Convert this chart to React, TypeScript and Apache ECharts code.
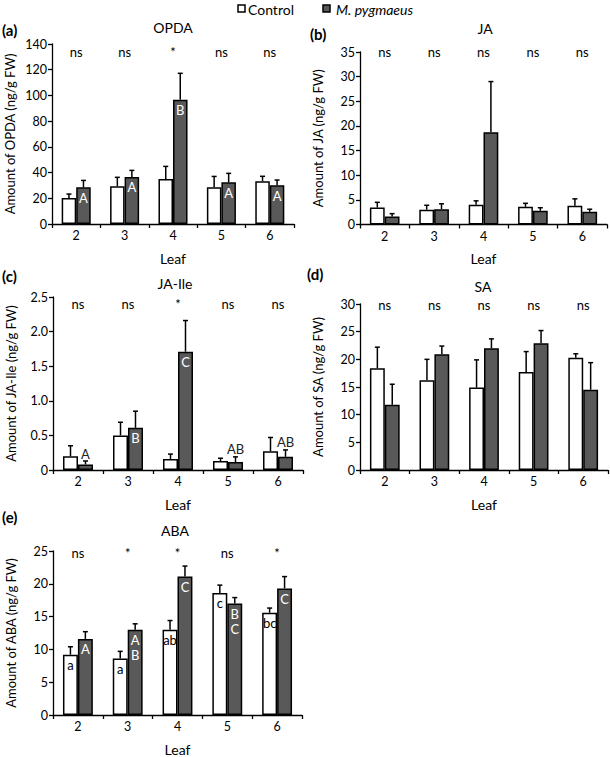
import React, { useEffect, useRef } from "react";
import * as echarts from "echarts";

const leaves = ["2", "3", "4", "5", "6"];

// (a) OPDA
const opdaControl = [20.2, 29.3, 35.0, 28.5, 33.2];
const opdaControlSE = [3.1, 7.0, 9.8, 8.5, 3.9];
const opdaMp = [28.5, 36.6, 96.7, 32.4, 30.1];
const opdaMpSE = [5.4, 5.1, 20.5, 7.0, 4.1];
const opdaMpLetters = ["A", "A", "B", "A", "A"];
const opdaSig = ["ns", "ns", "*", "ns", "ns"];

// (b) JA
const jaControl = [3.45, 3.0, 4.0, 3.6, 3.8];
const jaControlSE = [1.05, 0.9, 0.8, 0.7, 1.4];
const jaMp = [1.6, 3.1, 18.7, 2.8, 2.6];
const jaMpSE = [0.6, 1.1, 10.3, 0.6, 0.5];
const jaSig = ["ns", "ns", "ns", "ns", "ns"];

// (c) JA-Ile
const jaIleControl = [0.2, 0.5, 0.16, 0.13, 0.27];
const jaIleControlSE = [0.15, 0.19, 0.07, 0.04, 0.2];
const jaIleMp = [0.08, 0.61, 1.71, 0.115, 0.19];
const jaIleMpSE = [0.05, 0.24, 0.45, 0.075, 0.1];
const jaIleMpLetters = ["A", "B", "C", "AB", "AB"];
const jaIleSig = ["ns", "ns", "*", "ns", "ns"];

// (d) SA
const saControl = [18.4, 16.2, 14.9, 17.7, 20.3];
const saControlSE = [3.8, 3.8, 5.0, 3.7, 0.7];
const saMp = [11.8, 20.9, 22.0, 22.9, 14.5];
const saMpSE = [3.7, 1.5, 1.7, 2.3, 4.9];
const saSig = ["ns", "ns", "ns", "ns", "ns"];

// (e) ABA
const abaControl = [9.2, 8.6, 13.0, 18.6, 15.6];
const abaControlSE = [1.2, 1.1, 1.4, 1.2, 0.7];
const abaMp = [11.6, 13.0, 21.1, 17.0, 19.3];
const abaMpSE = [1.1, 0.9, 1.6, 0.9, 1.8];
const abaControlLetters = ["a", "a", "ab", "c", "bc"];
const abaMpLetters = ["A", "A\nB", "C", "B\nC", "C"];
const abaSig = ["ns", "*", "*", "ns", "*"];

const FONT = "Lato, 'Open Sans', sans-serif";
const MP_COLOR = "#595959";

type Panel = {
  tag: string;
  title: string;
  yName: string;
  max: number;
  interval: number;
  control: number[];
  controlSE: number[];
  mp: number[];
  mpSE: number[];
  controlLetters?: string[];
  mpLetters?: string[];
  sig: string[];
  grid: { left: number; top: number; width: number; height: number };
  sigOffset: number;
  tagPos: [number, number];
  decimals?: boolean;
};

const panels: Panel[] = [
  {
    tag: "(a)", title: "OPDA", yName: "Amount of OPDA (ng/g FW)", max: 140, interval: 20,
    control: opdaControl, controlSE: opdaControlSE, mp: opdaMp, mpSE: opdaMpSE,
    mpLetters: opdaMpLetters, sig: opdaSig,
    grid: { left: 52, top: 44, width: 242, height: 180 }, sigOffset: 8, tagPos: [2, 30],
  },
  {
    tag: "(b)", title: "JA", yName: "Amount of JA (ng/g FW)", max: 35, interval: 5,
    control: jaControl, controlSE: jaControlSE, mp: jaMp, mpSE: jaMpSE, sig: jaSig,
    grid: { left: 360, top: 52, width: 247, height: 172.5 }, sigOffset: 0, tagPos: [310, 34],
  },
  {
    tag: "(c)", title: "JA-Ile", yName: "Amount of JA-Ile (ng/g FW)", max: 2.5, interval: 0.5,
    control: jaIleControl, controlSE: jaIleControlSE, mp: jaIleMp, mpSE: jaIleMpSE,
    mpLetters: jaIleMpLetters, sig: jaIleSig, decimals: true,
    grid: { left: 53, top: 297, width: 250, height: 173 }, sigOffset: 7, tagPos: [2, 276],
  },
  {
    tag: "(d)", title: "SA", yName: "Amount of SA (ng/g FW)", max: 30, interval: 5,
    control: saControl, controlSE: saControlSE, mp: saMp, mpSE: saMpSE, sig: saSig,
    grid: { left: 360, top: 304, width: 248, height: 166 }, sigOffset: 1, tagPos: [307, 274],
  },
  {
    tag: "(e)", title: "ABA", yName: "Amount of ABA (ng/g FW)", max: 25, interval: 5,
    control: abaControl, controlSE: abaControlSE, mp: abaMp, mpSE: abaMpSE,
    controlLetters: abaControlLetters, mpLetters: abaMpLetters, sig: abaSig,
    grid: { left: 53, top: 551, width: 249, height: 167 }, sigOffset: 2, tagPos: [2, 517],
  },
];

function makeRender(p: Panel) {
  return (params: any, api: any) => {
    const i = api.value(0);
    const catW = api.size([1, 0])[0];
    const bw = catW * 0.3;
    const base = api.coord([i, 0]);
    const children: any[] = [];
    const items = [
      { v: p.control[i], se: p.controlSE[i], dx: -bw / 2, letter: p.controlLetters ? p.controlLetters[i] : "", inColor: "#000" },
      { v: p.mp[i], se: p.mpSE[i], dx: bw / 2, letter: p.mpLetters ? p.mpLetters[i] : "", inColor: "#fff" },
    ];
    for (const it of items) {
      const x = base[0] + it.dx;
      const top = api.coord([i, it.v])[1];
      const et = api.coord([i, it.v + it.se])[1];
      children.push({ type: "line", shape: { x1: x, y1: top, x2: x, y2: et }, style: { stroke: "#000", lineWidth: 1.5 } });
      children.push({ type: "line", shape: { x1: x - 2.5, y1: et, x2: x + 2.5, y2: et }, style: { stroke: "#000", lineWidth: 1.5 } });
      if (it.letter) {
        const h = base[1] - top;
        if (h > 22) {
          children.push({
            type: "text", x, y: top + 3,
            style: { text: it.letter, fill: it.inColor, font: `13px ${FONT}`, align: "center", verticalAlign: "top", lineHeight: 15 },
          });
        } else {
          children.push({
            type: "text", x, y: et - 1,
            style: { text: it.letter, fill: "#222", font: `13px ${FONT}`, align: "center", verticalAlign: "bottom" },
          });
        }
      }
    }
    const yTop = api.coord([i, p.max])[1];
    children.push({
      type: "text", x: base[0], y: yTop + p.sigOffset,
      style: { text: p.sig[i], fill: "#000", font: `13px ${FONT}`, align: "center", verticalAlign: "middle" },
    });
    return { type: "group", children };
  };
}

function buildOption() {
  const grid: any[] = [];
  const xAxis: any[] = [];
  const yAxis: any[] = [];
  const series: any[] = [];
  const graphic: any[] = [];
  panels.forEach((p, k) => {
    grid.push({ ...p.grid, containLabel: false });
    xAxis.push({
      type: "category", data: leaves, gridIndex: k,
      name: "Leaf", nameLocation: "middle", nameGap: 27,
      nameTextStyle: { fontFamily: FONT, fontSize: 14, color: "#000" },
      axisLine: { lineStyle: { color: "#000", width: 1.3 } },
      axisTick: { show: true, length: 4, lineStyle: { color: "#000", width: 1.3 } },
      axisLabel: { fontFamily: FONT, fontSize: 12.5, color: "#000", margin: 5 },
    });
    yAxis.push({
      type: "value", gridIndex: k, min: 0, max: p.max, interval: p.interval,
      name: p.yName, nameLocation: "middle", nameGap: 36,
      nameTextStyle: { fontFamily: FONT, fontSize: 13, color: "#000" },
      axisLine: { show: true, lineStyle: { color: "#000", width: 1.3 } },
      axisTick: { show: true, length: 4, lineStyle: { color: "#000", width: 1.3 } },
      splitLine: { show: false },
      axisLabel: {
        fontFamily: FONT, fontSize: 12.5, color: "#000", margin: 5,
        formatter: (v: number) => (p.decimals ? (v === 0 ? "0" : v.toFixed(1)) : String(v)),
      },
    });
    series.push({
      type: "bar", name: "Control", xAxisIndex: k, yAxisIndex: k, data: p.control,
      barWidth: "30%", barGap: "0%",
      itemStyle: { color: "#fff", borderColor: "#000", borderWidth: 1.5 },
    });
    series.push({
      type: "bar", name: "M. pygmaeus", xAxisIndex: k, yAxisIndex: k, data: p.mp,
      barWidth: "30%", barGap: "0%",
      itemStyle: { color: MP_COLOR, borderColor: "#000", borderWidth: 1.5 },
    });
    series.push({
      type: "custom", xAxisIndex: k, yAxisIndex: k, z: 10, clip: false,
      data: leaves.map((_, i) => [i, 0]),
      renderItem: makeRender(p),
    });
    graphic.push({
      type: "text", x: p.tagPos[0], y: p.tagPos[1],
      style: { text: p.tag, font: `bold 15px ${FONT}`, fill: "#000", verticalAlign: "middle" },
    });
  });
  const titles = [
    { text: "OPDA", x: 173, y: 27 },
    { text: "JA", x: 485, y: 28 },
    { text: "JA-Ile", x: 175, y: 283 },
    { text: "SA", x: 483, y: 286 },
    { text: "ABA", x: 175, y: 530 },
  ];
  titles.forEach((t) =>
    graphic.push({
      type: "text", x: t.x, y: t.y,
      style: { text: t.text, font: `14px ${FONT}`, fill: "#000", align: "center", verticalAlign: "middle" },
    })
  );
  // legend
  graphic.push({ type: "rect", shape: { x: 238, y: 5, width: 7, height: 7 }, style: { fill: "#fff", stroke: "#000", lineWidth: 1.5 } });
  graphic.push({ type: "text", x: 248, y: 9, style: { text: "Control", font: `14px ${FONT}`, fill: "#000", verticalAlign: "middle" } });
  graphic.push({ type: "rect", shape: { x: 323, y: 5, width: 7, height: 7 }, style: { fill: MP_COLOR, stroke: "#000", lineWidth: 1.5 } });
  graphic.push({ type: "text", x: 336, y: 9, style: { text: "M. pygmaeus", font: `italic 14px ${FONT}`, fill: "#000", verticalAlign: "middle" } });

  return { animation: false, backgroundColor: "#fff", grid, xAxis, yAxis, series, graphic };
}

export default function App() {
  const ref = useRef<HTMLDivElement>(null);
  useEffect(() => {
    document.body.style.margin = "0";
    if (!ref.current) return;
    const chart = echarts.init(ref.current, null, { renderer: "svg" });
    chart.setOption(buildOption() as any);
    return () => chart.dispose();
  }, []);
  return <div ref={ref} style={{ width: 610, height: 757 }} />;
}
